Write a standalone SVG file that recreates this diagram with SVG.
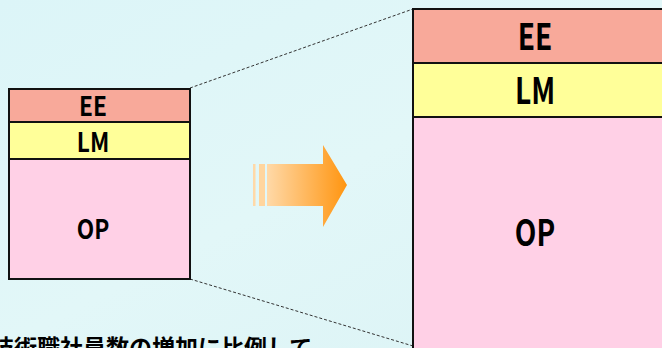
<svg xmlns="http://www.w3.org/2000/svg" width="662" height="348" viewBox="0 0 662 348">
<defs>
<linearGradient id="bg" x1="0" y1="0" x2="1" y2="1">
<stop offset="0" stop-color="#dcf5f8"/>
<stop offset="0.5" stop-color="#e2f7f8"/>
<stop offset="1" stop-color="#dbf3f5"/>
</linearGradient>
<linearGradient id="arr" x1="0" y1="0" x2="1" y2="0">
<stop offset="0" stop-color="#ffd9a8"/>
<stop offset="1" stop-color="#ff9510"/>
</linearGradient>
<style>
.box{stroke:#111;stroke-width:2}
.ee{fill:#f8a99a}
.lm{fill:#ffff99}
.op{fill:#ffd0e6}
.lbl{font-family:"Noto Sans CJK JP","DejaVu Sans",sans-serif;font-weight:bold;fill:#000;text-anchor:middle}
.s{font-size:27px}
.l{font-size:36px}
.dash{stroke:#333;stroke-width:1;stroke-dasharray:3,2;fill:none}
</style>
</defs>
<rect width="662" height="348" fill="url(#bg)"/>
<g id="connectors">
<line class="dash" x1="190" y1="88" x2="413" y2="9"/>
<line class="dash" x1="190" y1="279" x2="413" y2="346"/>
</g>
<g id="small-stack">
<rect class="box ee" x="9" y="89" width="181" height="33"/>
<rect class="box lm" x="9" y="122" width="181" height="37"/>
<rect class="box op" x="9" y="159" width="181" height="120"/>
<text class="lbl s" transform="translate(93,116) scale(0.84,1)">EE</text>
<text class="lbl s" transform="translate(93,152) scale(0.84,1)">LM</text>
<text class="lbl s" transform="translate(93,239) scale(0.84,1)">OP</text>
</g>
<g id="arrow">
<rect x="253" y="164" width="2.5" height="42" fill="#ffd9a8"/>
<rect x="259" y="164" width="6" height="42" fill="#ffd59e"/>
<polygon points="267,164 323,164 323,145 347,185 323,227 323,206 267,206" fill="url(#arr)"/>
</g>
<g id="large-stack">
<rect class="box ee" x="413" y="9" width="260" height="54"/>
<rect class="box lm" x="413" y="63" width="260" height="54"/>
<rect class="box op" x="413" y="117" width="260" height="240"/>
<text class="lbl l" transform="translate(535,50) scale(0.78,1)">EE</text>
<text class="lbl l" transform="translate(535,104) scale(0.78,1)">LM</text>
<text class="lbl l" transform="translate(535,246) scale(0.78,1)">OP</text>
</g>
<text x="-9" y="356" style="font-family:'Noto Sans CJK JP',sans-serif;font-weight:bold;font-size:23px;fill:#000">技術職社員数の増加に比例して</text>
</svg>
